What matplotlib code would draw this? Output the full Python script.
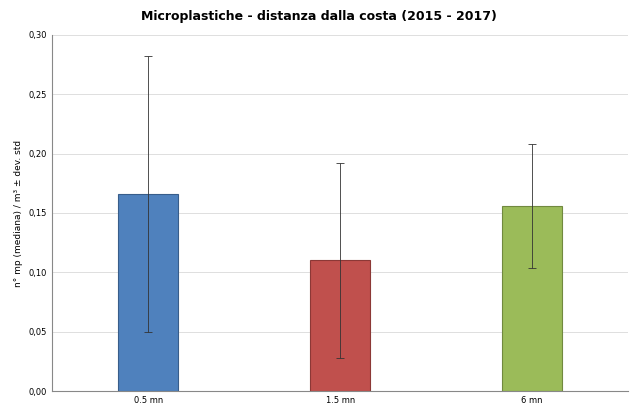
import matplotlib
matplotlib.use("Agg")
import matplotlib.pyplot as plt
from matplotlib.ticker import FuncFormatter

categories = ["0.5 mn", "1.5 mn", "6 mn"]
medians = [0.166, 0.110, 0.156]
err_low = [0.116, 0.082, 0.052]
err_high = [0.116, 0.082, 0.052]
colors = ["#4f81bd", "#c0504d", "#9bbb59"]
edges = ["#385d8a", "#8c3836", "#71893f"]

fig = plt.figure(figsize=[6.37, 4.16], dpi=100)
ax = fig.add_axes([0.082, 0.06, 0.904, 0.856])

x = range(len(categories))
ax.bar(x, medians, width=0.31, color=colors, edgecolor=edges, linewidth=0.8, zorder=2)
ax.errorbar(x, medians, yerr=[err_low, err_high], fmt="none", ecolor="#333333",
            elinewidth=0.6, capsize=3, capthick=0.6, zorder=3)

ax.set_xlim(-0.5, 2.5)
ax.set_ylim(0, 0.30)
ax.set_yticks([0, 0.05, 0.10, 0.15, 0.20, 0.25, 0.30])
ax.yaxis.set_major_formatter(FuncFormatter(lambda v, p: f"{v:.2f}".replace(".", ",")))
ax.set_xticks(list(x))
ax.set_xticklabels(categories)
ax.tick_params(labelsize=6, length=0)
ax.grid(axis="y", color="#d9d9d9", linewidth=0.6, zorder=0)
for s in ["top", "right"]:
    ax.spines[s].set_visible(False)
ax.spines["left"].set_color("#888888")
ax.spines["bottom"].set_color("#888888")

ax.set_ylabel("n° mp (mediana) / m³ ± dev. std", fontsize=6.5)
fig.suptitle("Microplastiche - distanza dalla costa (2015 - 2017)", fontsize=9,
             fontweight="bold", y=0.975)

fig.savefig("out.png", dpi=100)
